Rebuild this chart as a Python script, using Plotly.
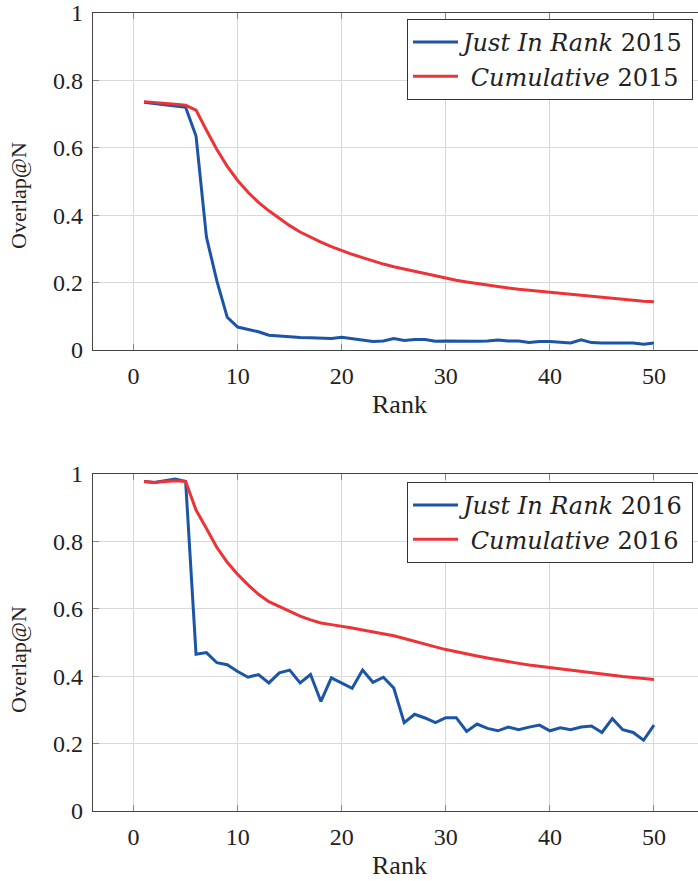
import plotly.graph_objects as go

ranks = list(range(1, 51))

just_in_rank_2015 = [0.735, 0.731, 0.727, 0.724, 0.72, 0.635, 0.335, 0.205, 0.097, 0.068,
                     0.062, 0.054, 0.044, 0.041, 0.038, 0.037, 0.036, 0.035, 0.034, 0.038,
                     0.034, 0.031, 0.025, 0.027, 0.034, 0.028, 0.031, 0.031, 0.026, 0.027,
                     0.026, 0.027, 0.026, 0.027, 0.03, 0.027, 0.027, 0.022, 0.025, 0.025,
                     0.022, 0.021, 0.03, 0.022, 0.021, 0.021, 0.02, 0.021, 0.017, 0.021]
cumulative_2015 = [0.737, 0.735, 0.732, 0.729, 0.726, 0.712, 0.652, 0.595, 0.545, 0.503,
                   0.468, 0.438, 0.413, 0.391, 0.369, 0.35, 0.334, 0.32, 0.307, 0.295,
                   0.284, 0.274, 0.264, 0.255, 0.247, 0.24, 0.233, 0.226, 0.22, 0.213,
                   0.207, 0.202, 0.197, 0.192, 0.188, 0.184, 0.18, 0.177, 0.173, 0.17,
                   0.167, 0.164, 0.161, 0.158, 0.155, 0.152, 0.15, 0.147, 0.145, 0.143]
just_in_rank_2016 = [0.978, 0.975, 0.98, 0.985, 0.978, 0.465, 0.47, 0.44, 0.434, 0.414,
                     0.397, 0.405, 0.38, 0.41, 0.418, 0.38, 0.405, 0.325, 0.395, 0.38,
                     0.364, 0.418, 0.382, 0.397, 0.365, 0.262, 0.287, 0.276, 0.262, 0.277,
                     0.277, 0.236, 0.258, 0.245, 0.238, 0.249, 0.241, 0.249, 0.255, 0.238,
                     0.247, 0.241, 0.249, 0.252, 0.233, 0.274, 0.241, 0.233, 0.21, 0.255]
cumulative_2016 = [0.978, 0.975, 0.978, 0.98, 0.978, 0.893, 0.838, 0.782, 0.738, 0.702,
                   0.671, 0.643, 0.621, 0.606, 0.592, 0.578, 0.567, 0.558, 0.553, 0.549,
                   0.543, 0.537, 0.532, 0.526, 0.52, 0.512, 0.503, 0.495, 0.487, 0.479,
                   0.472, 0.466, 0.46, 0.454, 0.448, 0.443, 0.438, 0.433, 0.429, 0.425,
                   0.421, 0.417, 0.413, 0.409, 0.405, 0.402, 0.399, 0.396, 0.393, 0.39]

x_ticks = [0, 10, 20, 30, 40, 50]
x_tick_labels = ["0", "10", "20", "30", "40", "50"]
y_ticks = [0, 0.2, 0.4, 0.6, 0.8, 1]
y_tick_labels = ["0", "0.2", "0.4", "0.6", "0.8", "1"]

BLUE = "#1c54a6"
RED = "#ec3338"
FONT = "Liberation Serif"
LEGFONT = "DejaVu Serif"

fig = go.Figure()
fig.add_trace(go.Scatter(x=ranks, y=just_in_rank_2015, mode="lines",
                         line=dict(color=BLUE, width=3),
                         name="<i>Just In Rank</i> 2015", xaxis="x", yaxis="y", legend="legend"))
fig.add_trace(go.Scatter(x=ranks, y=cumulative_2015, mode="lines",
                         line=dict(color=RED, width=3),
                         name="\u00a0<i>Cumulative</i> 2015", xaxis="x", yaxis="y", legend="legend"))
fig.add_trace(go.Scatter(x=ranks, y=just_in_rank_2016, mode="lines",
                         line=dict(color=BLUE, width=3),
                         name="<i>Just In Rank</i> 2016", xaxis="x2", yaxis="y2", legend="legend2"))
fig.add_trace(go.Scatter(x=ranks, y=cumulative_2016, mode="lines",
                         line=dict(color=RED, width=3),
                         name="\u00a0<i>Cumulative</i> 2016", xaxis="x2", yaxis="y2", legend="legend2"))

xcommon = dict(range=[-3.9, 54.23], tickvals=x_ticks, ticktext=x_tick_labels,
               showgrid=True, gridcolor="#d9d9d9", gridwidth=1,
               showline=True, linecolor="#444444", linewidth=1.2, mirror="ticks",
               ticks="inside", ticklen=6, tickcolor="#888888", tickwidth=1,
               zeroline=False, tickfont=dict(family=FONT, size=24, color="#222222"),
               ticklabelstandoff=4, automargin=False)
ycommon = dict(range=[0, 1], tickvals=y_ticks, ticktext=y_tick_labels,
               showgrid=True, gridcolor="#d9d9d9", gridwidth=1,
               showline=True, linecolor="#444444", linewidth=1.2,
               ticks="inside", ticklen=6, tickcolor="#888888", tickwidth=1,
               zeroline=False, tickfont=dict(family=FONT, size=24, color="#222222"),
               ticklabelstandoff=4, automargin=False)

top_dom = [(811 - 350) / 798, 1.0]
bot_dom = [0.0, (811 - 474) / 798]

legend_common = dict(bgcolor="white", bordercolor="#333333", borderwidth=1,
                     font=dict(family=LEGFONT, size=24, color="#222222"),
                     xanchor="right", yanchor="top", x=(693 - 93) / 605,
                     tracegroupgap=0, itemwidth=45)

fig.update_layout(
    width=698, height=881,
    margin=dict(l=93, r=0, t=13, b=70, autoexpand=False),
    paper_bgcolor="white", plot_bgcolor="white",
    xaxis=dict(domain=[0, 1], anchor="y", **xcommon),
    yaxis=dict(domain=top_dom, anchor="x", **ycommon),
    xaxis2=dict(domain=[0, 1], anchor="y2", **xcommon),
    yaxis2=dict(domain=bot_dom, anchor="x2", **ycommon),
    legend=dict(y=(811 - 19) / 798, **legend_common),
    legend2=dict(y=(811 - 482) / 798, **legend_common),
    showlegend=True,
)

for ylab in [(811 - 196) / 798, (811 - 660) / 798]:
    fig.add_annotation(text="Overlap@N", xref="paper", yref="paper",
                       x=(18 - 93) / 605, y=ylab, textangle=-90, showarrow=False,
                       font=dict(family=FONT, size=22, color="#222222"),
                       xanchor="center", yanchor="middle")
for ylab in [(811 - 404) / 798, (811 - 865) / 798]:
    fig.add_annotation(text="Rank", xref="paper", yref="paper",
                       x=(399.5 - 93) / 605, y=ylab, showarrow=False,
                       font=dict(family=FONT, size=26, color="#222222"),
                       xanchor="center", yanchor="middle")

fig.write_html("out.html", config={"displayModeBar": False},
               post_script="document.body.style.margin='0';document.body.style.padding='0';document.body.style.overflow='hidden';")
